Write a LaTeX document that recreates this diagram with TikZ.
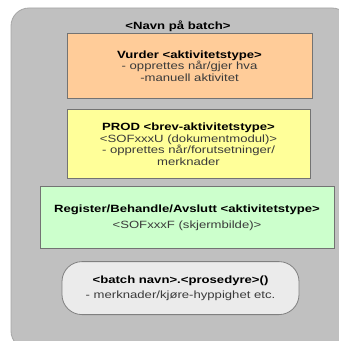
\documentclass[tikz,border=0pt]{standalone}
\usepackage{fontspec}
\setmainfont{Liberation Sans}[FakeStretch=1.25]
\usepackage{xcolor}
\usepackage{tikz}
\usetikzlibrary{positioning}

\definecolor{batchgray}{HTML}{C0C0C0}
\definecolor{vurderfill}{HTML}{FFCC99}
\definecolor{prodfill}{HTML}{FFFF99}
\definecolor{regfill}{HTML}{CCFFCC}
\definecolor{procfill}{HTML}{EBEBEB}
\definecolor{subtext}{HTML}{3A3A3A}

\begin{document}
\begin{tikzpicture}[
    box/.style={rectangle, draw=black!55, line width=0.9pt, outer sep=0pt, inner sep=2pt, align=center, font=\fontsize{10.5}{11.5}\selectfont},
    proc/.style={box, rounded corners=20pt, fill=procfill, draw=black!50, line width=0.8pt},
    sub/.style={color=subtext}
]
\useasboundingbox (0pt,0pt) rectangle (339pt,341pt);

% Batch container
\fill[batchgray, draw=black!35, line width=0.8pt, rounded corners=18pt] (11pt,333pt) rectangle (350pt,-8pt);

% Main boxes
\node[inner sep=0pt, font=\fontsize{10.5}{11.5}\selectfont\bfseries] (batch) at (178pt,315pt) {<Navn på batch>};
\node[box, fill=vurderfill, minimum width=245pt, minimum height=65pt, below=2pt of batch, xshift=11.5pt] (vurder)
    {\textbf{Vurder <aktivitetstype>}\\\textcolor{subtext}{- opprettes når/gjer hva}\\\textcolor{subtext}{-manuell aktivitet}};
\node[box, fill=prodfill, minimum width=243pt, minimum height=69pt, below=11pt of vurder, xshift=-1pt] (prod)
    {\textbf{PROD <brev-aktivitetstype>}\\\textcolor{subtext}{<SOFxxxU (dokumentmodul)>}\\\textcolor{subtext}{- opprettes når/forutsetninger/}\\\textcolor{subtext}{merknader}};
\node[box, fill=regfill, minimum width=294pt, minimum height=62pt, below=8pt of prod, xshift=-1.5pt] (register)
    {\textbf{Register/Behandle/Avslutt <aktivitetstype>}\\[4pt]\textcolor{subtext}{<SOFxxxF (skjermbilde)>}};
\node[proc, minimum width=237pt, minimum height=53pt, below=13pt of register, xshift=-6.5pt] (prosedyre)
    {\textbf{<batch navn>.<prosedyre>()}\\[3pt]\textcolor{subtext}{- merknader/kjøre-hyppighet etc.}};

\end{tikzpicture}
\end{document}
